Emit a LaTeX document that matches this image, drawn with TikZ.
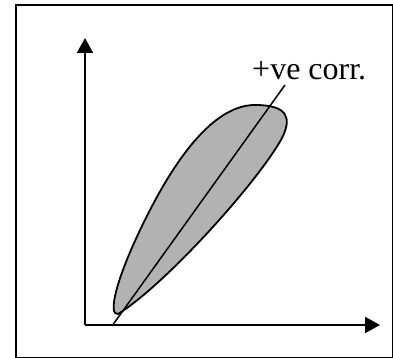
\documentclass[tikz,border=0pt]{standalone}
\usepackage{fontspec}
\setmainfont{Liberation Serif}
\usetikzlibrary{arrows.meta}

\tikzset{
  axis/.style={line width=2pt, -{Triangle[width=16pt,length=15pt]}},
  blob/.style={line width=1.8pt, fill=black!30},
  corrline/.style={line width=1.5pt},
  frame/.style={line width=1.5pt}
}

\begin{document}
\begin{tikzpicture}[x=1pt,y=-1pt]
  \useasboundingbox (0,0) rectangle (393,358);
  \draw[frame] (16,5) rectangle (392.5,357.5);
  % axes
  \coordinate (origin) at (85,325);
  \coordinate (ytip) at (85,38);
  \coordinate (xtip) at (380,325);
  \draw[axis] (origin) -- (ytip);
  \draw[axis] (origin) -- (xtip);
  % scatter region
  \draw[blob] (118,314) .. controls (108,316) and (114,280) .. (150,210)
    .. controls (182,148) and (218,105) .. (255,105)
    .. controls (288,105) and (292,118) .. (282,138)
    .. controls (258,182) and (165,285) .. (118,314) -- cycle;
  % correlation line
  \coordinate (lstart) at (112,326);
  \coordinate (lend) at (285,85);
  \draw[corrline] (lstart) -- (lend);
  \node[anchor=base west, inner sep=0pt, font=\fontsize{32}{38}\selectfont] (corr) at (252,80) {+ve corr.};
\end{tikzpicture}
\end{document}
